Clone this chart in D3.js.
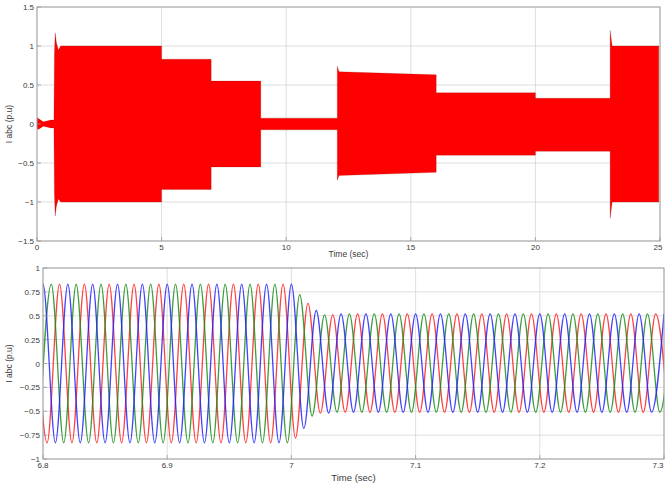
<!DOCTYPE html>
<html><head><meta charset="utf-8">
<script src="https://cdn.jsdelivr.net/npm/d3@7"></script>
<style>
html,body{margin:0;padding:0;background:#fff;}
svg{display:block;font-family:"Liberation Sans",Arial,sans-serif;}
</style></head><body>
<svg id="c" width="665" height="483"></svg>
<script>
// ---------- Top panel data: envelope of the dense 3-phase current (p.u.) ----------
const envTime  = [0.00,0.02,0.10,0.25,0.40,0.55,0.68,0.70,0.73,0.78,0.86,0.95,5.00,5.00,6.99,6.99,8.98,8.98,12.05,12.05,12.12,16.02,16.02,20.00,20.00,23.00,23.00,23.08,24.95];
const envUpper = [0.02,0.08,0.06,0.03,0.04,0.05,0.05,0.90,1.17,1.04,0.95,1.00,1.00,0.83,0.83,0.55,0.55,0.075,0.075,0.74,0.67,0.63,0.40,0.40,0.33,0.33,1.20,1.00,1.00];
const envLower = [-0.02,-0.07,-0.06,-0.03,-0.04,-0.05,-0.05,-0.90,-1.18,-1.05,-0.96,-1.00,-1.00,-0.84,-0.84,-0.55,-0.55,-0.075,-0.075,-0.72,-0.66,-0.62,-0.40,-0.40,-0.35,-0.35,-1.21,-1.00,-1.00];
const topXTicks = [0,5,10,15,20,25];
const topYTicks = [-1.5,-1,-0.5,0,0.5,1,1.5];

// ---------- Bottom panel data: successive extrema (peak/trough values) of each phase ----------
const halfPeriod = 0.01;
const blueStart = 6.79, greenStart = 6.7967, redStart = 6.7933;
const blueExt = [-0.83,
  0.83,-0.83,0.83,-0.83,0.83,-0.83,0.83,-0.83,0.83,-0.83,
  0.83,-0.83,0.83,-0.83,0.83,-0.83,0.83,-0.83,0.83,-0.83,
  0.83,-0.68,0.555,-0.52,
  0.52,-0.51,0.52,-0.51,0.52,-0.51,0.52,-0.51,0.52,-0.51,
  0.52,-0.51,0.52,-0.51,0.52,-0.51,0.52,-0.51,0.52,-0.51,
  0.52,-0.51,0.52,-0.51,0.52,-0.51,0.52];
const greenExt = [
  -0.83,0.83,-0.83,0.83,-0.83,0.83,-0.83,0.83,-0.83,0.83,
  -0.83,0.83,-0.83,0.83,-0.83,0.83,-0.83,0.83,-0.83,0.83,
  -0.83,0.72,-0.55,0.51,
  -0.51,0.52,-0.51,0.52,-0.51,0.52,-0.51,0.52,-0.51,0.52,
  -0.51,0.52,-0.51,0.52,-0.51,0.52,-0.51,0.52,-0.51,0.52,
  -0.51,0.52,-0.51,0.52,-0.51,0.52,-0.51,0.52];
const redExt = [
  0.83,-0.83,0.83,-0.83,0.83,-0.83,0.83,-0.83,0.83,-0.83,
  0.83,-0.83,0.83,-0.83,0.83,-0.83,0.83,-0.83,0.83,-0.83,
  0.83,-0.78,0.63,-0.52,
  0.51,-0.51,0.52,-0.51,0.52,-0.51,0.52,-0.51,0.52,-0.51,
  0.52,-0.51,0.52,-0.51,0.52,-0.51,0.52,-0.51,0.52,-0.51,
  0.52,-0.51,0.52,-0.51,0.52,-0.51,0.52,-0.51];
const botXTicks = [6.8,6.9,7,7.1,7.2,7.3];
const botYTicks = [-1,-0.75,-0.5,-0.25,0,0.25,0.5,0.75,1];

const yLabel = "I abc (p.u)", xLabel = "Time (sec)";

const svg = d3.select("#c");
const W = 665;
const gridCol = "#d6d6d6", boxCol = "#9a9a9a", txtCol = "#3a3a3a";

function panel(id, x, y, xt, yt, xlabY, xlabSize, ylabX) {
  const [x0,x1] = x.range(), [y0,y1] = y.range();
  const g = svg.append("g");
  g.append("clipPath").attr("id", id).append("rect")
    .attr("x", x0).attr("y", y1).attr("width", x1-x0).attr("height", y0-y1);
  g.selectAll(".gx").data(xt).join("line")
    .attr("x1", d=>x(d)).attr("x2", d=>x(d)).attr("y1", y0).attr("y2", y1)
    .attr("stroke", gridCol).attr("stroke-width", 0.8);
  g.selectAll(".gy").data(yt).join("line")
    .attr("y1", d=>y(d)).attr("y2", d=>y(d)).attr("x1", x0).attr("x2", x1)
    .attr("stroke", gridCol).attr("stroke-width", 0.8);
  g.selectAll(".tx").data(xt).join("text")
    .attr("x", d=>Math.min(x(d), W-7)).attr("y", y0+9).attr("text-anchor","middle")
    .attr("font-size", 8).attr("fill", txtCol).text(d=>d3.format("")(d));
  g.selectAll(".ty").data(yt).join("text")
    .attr("x", x0-3).attr("y", d=>y(d)+3).attr("text-anchor","end")
    .attr("font-size", 8).attr("fill", txtCol).text(d=>d3.format("")(d));
  g.append("text").attr("x", (x0+x1)/2).attr("y", xlabY).attr("text-anchor","middle")
    .attr("font-size", xlabSize).attr("fill", txtCol).text(xLabel);
  g.append("text").attr("transform", `translate(${ylabX},${(y0+y1)/2}) rotate(-90)`)
    .attr("text-anchor","middle").attr("font-size", 8.5).attr("fill", txtCol).text(yLabel);
  return g;
}
function box(g, x, y, xt, yt) {
  const [x0,x1] = x.range(), [y0,y1] = y.range();
  g.append("rect").attr("x", x0).attr("y", y1).attr("width", x1-x0).attr("height", y0-y1)
    .attr("fill","none").attr("stroke", boxCol).attr("stroke-width", 0.9);
  g.selectAll(".mx").data(xt).join("line")
    .attr("x1", d=>x(d)).attr("x2", d=>x(d)).attr("y1", y0).attr("y2", y0-4)
    .attr("stroke", boxCol).attr("stroke-width", 0.8);
  g.selectAll(".my").data(yt).join("line")
    .attr("y1", d=>y(d)).attr("y2", d=>y(d)).attr("x1", x0).attr("x2", x0+4)
    .attr("stroke", boxCol).attr("stroke-width", 0.8);
}

// ---------- Top panel ----------
const xT = d3.scaleLinear().domain([0,25]).range([37,660]);
const yT = d3.scaleLinear().domain([-1.5,1.5]).range([241,7]);
const gT = panel("clipT", xT, yT, topXTicks, topYTicks, 257, 8.5, 12);
const env = envTime.map((t,i)=>({t, u:envUpper[i], l:envLower[i]}));
gT.append("path").datum(env).attr("clip-path","url(#clipT)")
  .attr("d", d3.area().x(d=>xT(d.t)).y0(d=>yT(d.l)).y1(d=>yT(d.u)))
  .attr("fill","#ff0000").attr("stroke","#700").attr("stroke-opacity",0.35).attr("stroke-width",0.6);
box(gT, xT, yT, topXTicks, topYTicks);

// ---------- Bottom panel ----------
const xB = d3.scaleLinear().domain([6.8,7.3]).range([43,664]);
const yB = d3.scaleLinear().domain([-1,1]).range([459,268]);
const gB = panel("clipB", xB, yB, botXTicks, botYTicks, 481, 9.5, 12);
const phases = [
  {ext: redExt,   t0: redStart,   col: "#ff2020"},
  {ext: greenExt, t0: greenStart, col: "#1a8c1a"},
  {ext: blueExt,  t0: blueStart,  col: "#2020ff"}
];
const line = d3.line().x(d=>xB(d.t)).y(d=>yB(d.v)).curve(d3.curveMonotoneX);
phases.forEach(p=>{
  const pts = p.ext.map((v,i)=>({t: p.t0 + i*halfPeriod, v}));
  gB.append("path").datum(pts).attr("clip-path","url(#clipB)")
    .attr("d", line).attr("fill","none").attr("stroke", p.col)
    .attr("stroke-width", 1.3).attr("stroke-opacity", 0.85);
});
box(gB, xB, yB, botXTicks, botYTicks);
</script>
</body></html>
